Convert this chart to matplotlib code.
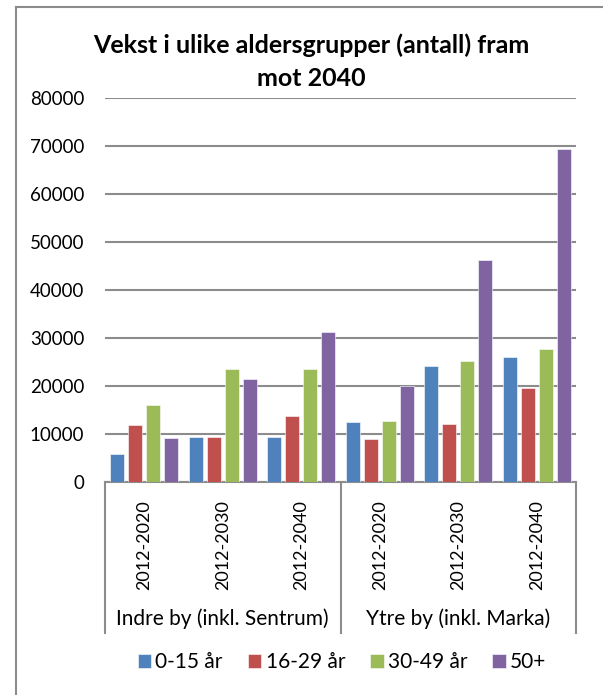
import matplotlib
matplotlib.use("Agg")
import matplotlib.pyplot as plt
import numpy as np
from matplotlib.lines import Line2D

plt.rcParams['font.family'] = ['Lato', 'DejaVu Sans']

# data
periods = ["2012-2020", "2012-2030", "2012-2040"]
regions = ["Indre by (inkl. Sentrum)", "Ytre by (inkl. Marka)"]
series = ["0-15 år", "16-29 år", "30-49 år", "50+"]
colors = ["#4F81BD", "#C0504D", "#9BBB59", "#8064A2"]

age_0_15 = [5800, 9400, 9400, 12500, 24100, 26100]
age_16_29 = [11800, 9400, 13700, 8950, 12100, 19500]
age_30_49 = [16000, 23500, 23500, 12700, 25150, 27700]
age_50 = [9250, 21400, 31200, 20100, 46150, 69350]
values = [age_0_15, age_16_29, age_30_49, age_50]

fig = plt.figure(figsize=(6.03, 6.95), dpi=100)
W, H = 603.0, 695.0
ax = fig.add_axes([105 / W, 1 - 482 / H, (576 - 105) / W, (482 - 98) / H])

n = len(periods) * len(regions)
x = np.arange(n)
step = 0.228
bw = 0.18
for i, (vals, col, name) in enumerate(zip(values, colors, series)):
    ax.bar(x + (i - 1.5) * step, vals, bw, color=col, label=name,
           edgecolor="white", linewidth=0.4, zorder=3)

ax.set_xlim(-0.5, n - 0.5)
ax.set_ylim(0, 80000)
ax.set_yticks(np.arange(0, 80001, 10000))
ax.set_yticklabels([str(v) for v in range(0, 80001, 10000)], fontsize=13.5)
ax.yaxis.grid(True, color="#8c8c8c", linewidth=1.5, zorder=0)
ax.tick_params(axis="y", length=0, pad=15)
ax.tick_params(axis="x", length=0, pad=13)
ax.set_xticks(x)
ax.set_xticklabels(periods * len(regions), rotation=90, fontsize=13, va="top")
for s in ["left", "right", "top"]:
    ax.spines[s].set_visible(False)
ax.spines["bottom"].set_color("#8c8c8c")
ax.spines["bottom"].set_linewidth(1.5)

# category box lines under the axis
trans = ax.get_xaxis_transform()
box_bottom = -(633 - 482) / (482 - 98)
for xv in [-0.5, 2.5, 5.5]:
    ax.plot([xv, xv], [0, box_bottom], transform=trans, color="#8c8c8c",
            linewidth=1.5, clip_on=False)
for j, reg in enumerate(regions):
    ax.text(j * 3 + 1, -(619 - 482) / (482 - 98), reg, transform=trans,
            ha="center", va="center", fontsize=15)

fig.text(311 / W, 1 - 45 / H, "Vekst i ulike aldersgrupper (antall) fram",
         ha="center", va="center", fontsize=18, fontweight="bold")
fig.text(311 / W, 1 - 78 / H, "mot 2040",
         ha="center", va="center", fontsize=18, fontweight="bold")

handles, labels = ax.get_legend_handles_labels()
fig.legend(handles, labels, loc="center", bbox_to_anchor=(342 / W, 1 - 662 / H),
           ncol=4, frameon=False, fontsize=15, handlelength=0.65, handleheight=0.65,
           handletextpad=0.2, columnspacing=1.2)

# outer chart border
fig.add_artist(Line2D([16 / W, 16 / W], [0, 1 - 7 / H], color="#8c8c8c", linewidth=1.5))
fig.add_artist(Line2D([16 / W, 1], [1 - 7 / H, 1 - 7 / H], color="#8c8c8c", linewidth=1.5))

fig.savefig("out.png", dpi=100)
